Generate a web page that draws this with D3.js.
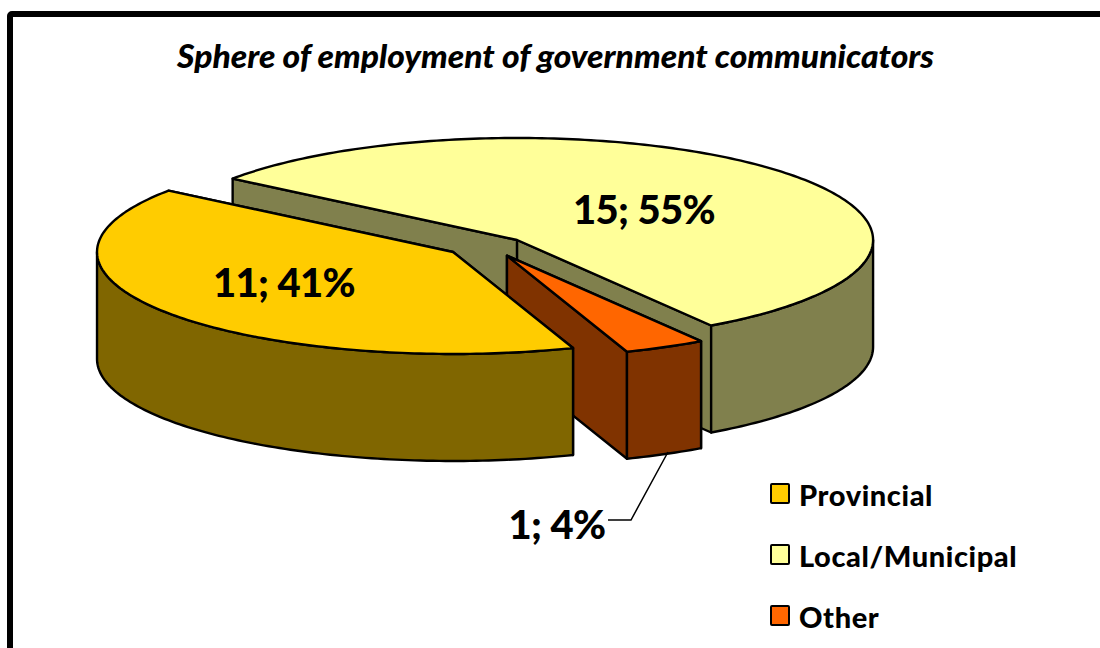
<!DOCTYPE html>
<html>
<head>
<meta charset="utf-8">
<script src="https://cdn.jsdelivr.net/npm/d3@7/dist/d3.min.js"></script>
<style>
  html, body { margin: 0; padding: 0; background: #fff; overflow: hidden; }
  text { font-family: Lato, "Open Sans", sans-serif; font-weight: 900; fill: #000; }
</style>
</head>
<body>
<svg id="chart" width="1100" height="648"></svg>
<script>
const titleText = "Sphere of employment of government communicators";
const categories = ["Provincial", "Local/Municipal", "Other"];
const counts = [11, 15, 1];
const percents = [41, 55, 4];
const topColors = ["#FFCC00", "#FFFF99", "#FF6600"];
const wallColors = ["#806600", "#80804D", "#803300"];
const explodeFactors = [1, 1, 1.1];

const deg = Math.PI / 180;
const cx = 486.6, cy = 246.4;      // centre of the unexploded disc
const rx = 356, ry = 102;          // ellipse radii of the disc's top face
const depth = 107;                 // extruded height
const explodeX = 41.7, explodeY = 9.4;

const svg = d3.select("#chart");

// chart frame, running off the right and bottom of the page
svg.append("rect")
  .attr("x", 10).attr("y", 14)
  .attr("width", 1200).attr("height", 800)
  .attr("rx", 2)
  .attr("fill", "#fff").attr("stroke", "#000").attr("stroke-width", 6);

svg.append("text")
  .attr("x", 555.5).attr("y", 68)
  .attr("text-anchor", "middle")
  .attr("font-size", 32.5)
  .attr("font-style", "italic")
  .attr("textLength", 757)
  .attr("lengthAdjust", "spacingAndGlyphs")
  .text(titleText);

const pie = d3.pie().sort(null).value(d => d)
  .startAngle(160.3 * deg)
  .endAngle((160.3 + 360) * deg);
const arcs = pie(counts).map((a, i) => {
  const mid = (a.startAngle + a.endAngle) / 2;
  return {
    index: i,
    a0: a.startAngle,
    a1: a.endAngle,
    ox: cx + explodeFactors[i] * explodeX * Math.sin(mid),
    oy: cy - explodeFactors[i] * explodeY * Math.cos(mid)
  };
});

const line = d3.line().x(d => d[0]).y(d => d[1]);
const rim = (s, t, dy = 0) => [s.ox + rx * Math.sin(t), s.oy - ry * Math.cos(t) + dy];
const sweep = (s, t0, t1, dy = 0) => {
  const n = Math.max(2, Math.ceil((t1 - t0) / (1 * deg)));
  return d3.range(n + 1).map(k => rim(s, t0 + (t1 - t0) * k / n, dy));
};

const edgeStyle = sel => sel
  .attr("stroke", "#000").attr("stroke-width", 2.4)
  .attr("stroke-linejoin", "round");

function drawSlice(s) {
  const g = svg.append("g");
  const wall = wallColors[s.index];

  // the two radial cut faces
  [s.a0, s.a1].forEach(t => {
    const p = rim(s, t);
    const pts = [[s.ox, s.oy], p, [p[0], p[1] + depth], [s.ox, s.oy + depth]];
    g.append("path").attr("d", line(pts) + "Z").attr("fill", wall).call(edgeStyle);
  });

  // outer wall: only the stretches of rim that face the viewer
  for (let k = 0; k < 2; k++) {
    const f0 = (90 + 360 * k) * deg, f1 = (270 + 360 * k) * deg;
    const t0 = Math.max(s.a0, f0), t1 = Math.min(s.a1, f1);
    if (t1 > t0) {
      const pts = sweep(s, t0, t1).concat(sweep(s, t0, t1, depth).reverse());
      g.append("path").attr("d", line(pts) + "Z").attr("fill", wall).call(edgeStyle);
    }
  }

  // top face
  const topPts = [[s.ox, s.oy]].concat(sweep(s, s.a0, s.a1));
  g.append("path").attr("d", line(topPts) + "Z")
    .attr("fill", topColors[s.index]).call(edgeStyle);
}

// back to front: Local/Municipal, Other, Provincial
[1, 2, 0].forEach(i => drawSlice(arcs[i]));

// leader line for the small slice
const leader = [[668, 452], [631, 520], [608, 520]];
svg.append("path").attr("d", line(leader))
  .attr("fill", "none").attr("stroke", "#000").attr("stroke-width", 1.5);

// data labels
const labelSpots = [[284, 297], [644, 224], [557, 539]];
svg.selectAll("text.value").data(counts).enter().append("text")
  .attr("class", "value")
  .attr("x", (d, i) => labelSpots[i][0])
  .attr("y", (d, i) => labelSpots[i][1])
  .attr("text-anchor", "middle")
  .attr("font-size", 40)
  .attr("letter-spacing", -0.6)
  .text((d, i) => `${d}; ${percents[i]}%`);

// legend
const legendRows = [494, 555, 616];
const legend = svg.selectAll("g.legend").data(categories).enter().append("g")
  .attr("class", "legend");
legend.append("rect")
  .attr("x", 771).attr("y", (d, i) => legendRows[i] - 10)
  .attr("width", 18).attr("height", 19)
  .attr("rx", 1)
  .attr("fill", (d, i) => topColors[i])
  .attr("stroke", "#000").attr("stroke-width", 2);
legend.append("text")
  .attr("x", 799).attr("y", (d, i) => legendRows[i] + 12)
  .attr("font-size", 29)
  .attr("letter-spacing", 0.6)
  .text(d => d);
</script>
</body>
</html>
